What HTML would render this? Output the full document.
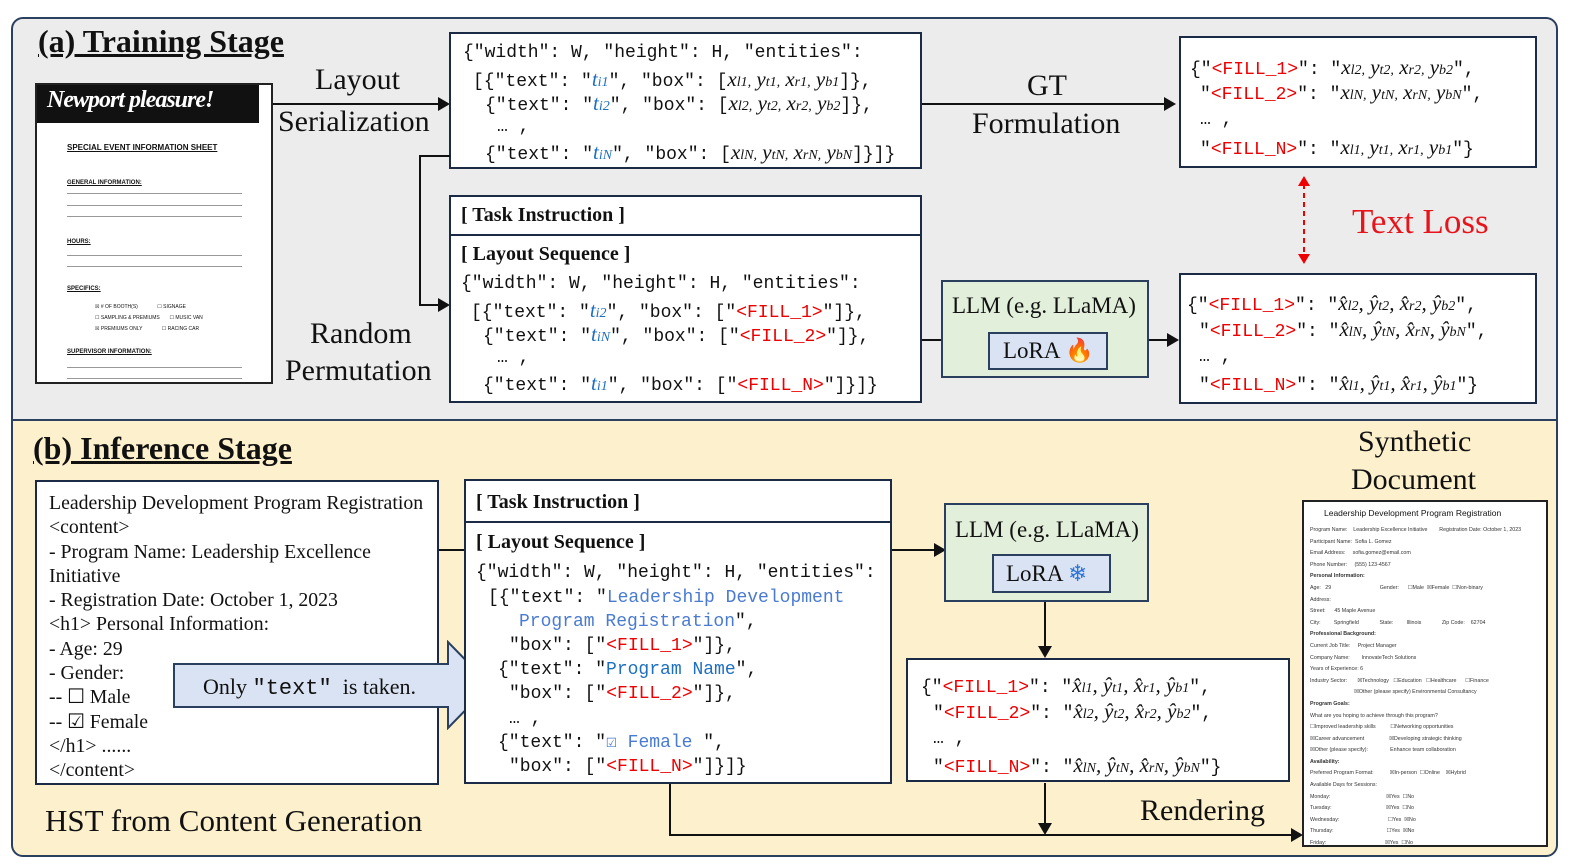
<!DOCTYPE html>
<html><head><meta charset="utf-8"><style>
*{margin:0;padding:0;box-sizing:border-box}
body{width:1578px;height:867px;background:#fff;position:relative;overflow:hidden;font-family:"Liberation Serif",serif;color:#111}
.a{position:absolute}
.panel{position:absolute;border:2px solid #2b3f5e;border-radius:12px}
.box{position:absolute;background:#fff;border:2px solid #1c2b45}
.t{position:absolute;white-space:nowrap;line-height:1}
.c{position:absolute;white-space:pre;font-family:"Liberation Mono",monospace;font-size:18px;line-height:1;letter-spacing:0}
.r{color:#e00}.b{color:#1f6fc0}.lb{color:#4a7bd0}
.m{font-family:"Liberation Serif",serif;font-style:italic;font-size:21px;letter-spacing:0}
.s{font-size:14px}
.ln{position:absolute;background:#111}
</style></head><body>
<div class="panel" style="left:11px;top:17px;width:1547px;height:404px;background:#ececec;border-radius:12px 12px 0 0"></div>
<div class="panel" style="left:11px;top:419px;width:1547px;height:438px;background:#fdf1cd;border-radius:0 0 12px 12px"></div>

<div class="t" style="left:38px;top:25px;font-size:32px;font-weight:bold;text-decoration:underline">(a) Training Stage</div>

<!-- doc image -->
<div class="a" style="left:35px;top:83px;width:238px;height:301px;background:#fff;border:2px solid #222">
 <div class="a" style="left:0;top:0;width:222px;height:38px;background:#111;color:#fff;font-style:italic;font-weight:bold;font-size:24px;padding:2px 0 0 10px;white-space:nowrap;letter-spacing:-1px">Newport pleasure!</div>
 <div class="t" style="left:30px;top:58px;font:bold 8px 'Liberation Sans';text-decoration:underline">SPECIAL EVENT INFORMATION SHEET</div>
 <div class="t" style="left:30px;top:95px;font:bold 6px 'Liberation Sans';text-decoration:underline">GENERAL INFORMATION:</div>
 <div class="a" style="left:30px;top:108px;width:175px;height:24px;border-top:1px solid #999;border-bottom:1px solid #999"></div>
 <div class="a" style="left:30px;top:120px;width:175px;height:1px;background:#999"></div>
 <div class="t" style="left:30px;top:154px;font:bold 6px 'Liberation Sans';text-decoration:underline">HOURS:</div>
 <div class="a" style="left:30px;top:170px;width:175px;height:12px;border-top:1px solid #999;border-bottom:1px solid #999"></div>
 <div class="t" style="left:30px;top:201px;font:bold 6px 'Liberation Sans';text-decoration:underline">SPECIFICS:</div>
 <div class="t" style="left:58px;top:217px;font:5px 'Liberation Sans';line-height:11px;white-space:pre">☒ # OF BOOTH(S)              ☐ SIGNAGE
☐ SAMPLING &amp; PREMIUMS       ☐ MUSIC VAN
☒ PREMIUMS ONLY              ☐ RACING CAR</div>
 <div class="t" style="left:30px;top:264px;font:bold 6px 'Liberation Sans';text-decoration:underline">SUPERVISOR INFORMATION:</div>
 <div class="a" style="left:30px;top:282px;width:175px;height:12px;border-top:1px solid #999;border-bottom:1px solid #999"></div>
</div>

<div class="t" style="left:315px;top:65px;font-size:30px">Layout</div>
<div class="t" style="left:278px;top:107px;font-size:30px">Serialization</div>
<div class="ln" style="left:273px;top:103px;width:168px;height:2px"></div>
<svg class="a" style="left:438px;top:97px" width="12" height="14"><polygon points="0,0 12,7 0,14" fill="#111"/></svg>

<div class="box" style="left:449px;top:32px;width:473px;height:137px"></div>
<div class="c" style="left:463px;top:44px">{"width": W, "height": H, "entities":</div>
<div class="c" style="left:473px;top:69px">[{"text": "<span class="b m">t<span class="s">i1</span></span>", "box": [<span class="m">x<span class="s">l1,</span> y<span class="s">t1,</span> x<span class="s">r1,</span> y<span class="s">b1</span></span>]},</div>
<div class="c" style="left:485px;top:93px">{"text": "<span class="b m">t<span class="s">i2</span></span>", "box": [<span class="m">x<span class="s">l2,</span> y<span class="s">t2,</span> x<span class="s">r2,</span> y<span class="s">b2</span></span>]},</div>
<div class="c" style="left:497px;top:118px">… ,</div>
<div class="c" style="left:485px;top:142px">{"text": "<span class="b m">t<span class="s">iN</span></span>", "box": [<span class="m">x<span class="s">lN,</span> y<span class="s">tN,</span> x<span class="s">rN,</span> y<span class="s">bN</span></span>]}]}</div>

<div class="ln" style="left:419px;top:155px;width:31px;height:2px"></div>
<div class="ln" style="left:419px;top:155px;width:2px;height:151px"></div>
<div class="ln" style="left:419px;top:304px;width:22px;height:2px"></div>
<svg class="a" style="left:438px;top:298px" width="12" height="14"><polygon points="0,0 12,7 0,14" fill="#111"/></svg>

<div class="t" style="left:310px;top:319px;font-size:30px">Random</div>
<div class="t" style="left:285px;top:356px;font-size:30px">Permutation</div>

<div class="box" style="left:449px;top:195px;width:473px;height:208px"></div>
<div class="ln" style="left:449px;top:234px;width:473px;height:2px;background:#1c2b45"></div>
<div class="t" style="left:461px;top:205px;font-size:20px;font-weight:bold">[ Task Instruction ]</div>
<div class="t" style="left:461px;top:244px;font-size:20px;font-weight:bold">[ Layout Sequence ]</div>
<div class="c" style="left:461px;top:275px">{"width": W, "height": H, "entities":</div>
<div class="c" style="left:471px;top:300px">[{"text": "<span class="b m">t<span class="s">i2</span></span>", "box": ["<span class="r">&lt;FILL_1&gt;</span>"]},</div>
<div class="c" style="left:483px;top:324px">{"text": "<span class="b m">t<span class="s">iN</span></span>", "box": ["<span class="r">&lt;FILL_2&gt;</span>"]},</div>
<div class="c" style="left:497px;top:349px">… ,</div>
<div class="c" style="left:483px;top:373px">{"text": "<span class="b m">t<span class="s">i1</span></span>", "box": ["<span class="r">&lt;FILL_N&gt;</span>"]}]}</div>

<div class="t" style="left:1027px;top:71px;font-size:30px">GT</div>
<div class="t" style="left:972px;top:109px;font-size:30px">Formulation</div>
<div class="ln" style="left:922px;top:103px;width:245px;height:2px"></div>
<svg class="a" style="left:1164px;top:97px" width="12" height="14"><polygon points="0,0 12,7 0,14" fill="#111"/></svg>

<div class="box" style="left:1179px;top:36px;width:358px;height:132px"></div>
<div class="c" style="left:1190px;top:57px">{"<span class="r">&lt;FILL_1&gt;</span>": "<span class="m">x<span class="s">l2,</span> y<span class="s">t2,</span> x<span class="s">r2,</span> y<span class="s">b2</span></span>",</div>
<div class="c" style="left:1200px;top:82px">"<span class="r">&lt;FILL_2&gt;</span>": "<span class="m">x<span class="s">lN,</span> y<span class="s">tN,</span> x<span class="s">rN,</span> y<span class="s">bN</span></span>",</div>
<div class="c" style="left:1200px;top:111px">… ,</div>
<div class="c" style="left:1200px;top:137px">"<span class="r">&lt;FILL_N&gt;</span>": "<span class="m">x<span class="s">l1,</span> y<span class="s">t1,</span> x<span class="s">r1,</span> y<span class="s">b1</span></span>"}</div>

<svg class="a" style="left:1297px;top:176px" width="14" height="88"><line x1="7" y1="8" x2="7" y2="80" stroke="#e00" stroke-width="2" stroke-dasharray="5,4"/><polygon points="1,10 7,0 13,10" fill="#e00"/><polygon points="1,78 7,88 13,78" fill="#e00"/></svg>
<div class="t" style="left:1352px;top:204px;font-size:35px;color:#e8141c">Text Loss</div>

<div class="ln" style="left:922px;top:339px;width:21px;height:2px"></div>
<div class="a" style="left:941px;top:280px;width:208px;height:98px;background:#e2efda;border:2px solid #2b3f5e"></div>
<div class="t" style="left:952px;top:294px;font-size:23px">LLM (e.g. LLaMA)</div>
<div class="a" style="left:988px;top:332px;width:120px;height:38px;background:#dae3f3;border:2px solid #2b3f5e"></div>
<div class="t" style="left:1003px;top:339px;font-size:23px">LoRA <span style="color:#e8141c">🔥</span></div>
<div class="ln" style="left:1149px;top:339px;width:22px;height:2px"></div>
<svg class="a" style="left:1167px;top:333px" width="12" height="14"><polygon points="0,0 12,7 0,14" fill="#111"/></svg>

<div class="box" style="left:1179px;top:273px;width:358px;height:131px"></div>
<div class="c" style="left:1187px;top:293px">{"<span class="r">&lt;FILL_1&gt;</span>": "<span class="m">x̂<span class="s">l2</span>, ŷ<span class="s">t2</span>, x̂<span class="s">r2</span>, ŷ<span class="s">b2</span></span>",</div>
<div class="c" style="left:1199px;top:319px">"<span class="r">&lt;FILL_2&gt;</span>": "<span class="m">x̂<span class="s">lN</span>, ŷ<span class="s">tN</span>, x̂<span class="s">rN</span>, ŷ<span class="s">bN</span></span>",</div>
<div class="c" style="left:1199px;top:348px">… ,</div>
<div class="c" style="left:1199px;top:373px">"<span class="r">&lt;FILL_N&gt;</span>": "<span class="m">x̂<span class="s">l1</span>, ŷ<span class="s">t1</span>, x̂<span class="s">r1</span>, ŷ<span class="s">b1</span></span>"}</div>

<!-- inference -->
<div class="t" style="left:33px;top:432px;font-size:32px;font-weight:bold;text-decoration:underline">(b) Inference Stage</div>
<div class="box" style="left:35px;top:480px;width:404px;height:305px"></div>
<div class="t" style="left:49px;top:491px;font-size:19.8px;line-height:24.3px;white-space:pre">Leadership Development Program Registration
&lt;content&gt;
- Program Name: Leadership Excellence
Initiative
- Registration Date: October 1, 2023
&lt;h1&gt; Personal Information:
- Age: 29
- Gender:
-- ☐ Male
-- ☑ Female
&lt;/h1&gt; ......
&lt;/content&gt;</div>
<div class="t" style="left:45px;top:805px;font-size:31px">HST from Content Generation</div>

<div class="ln" style="left:439px;top:549px;width:26px;height:2px"></div>
<svg class="a" style="left:170px;top:640px" width="325" height="90"><polygon points="4,24 278,24 278,2 320,45 278,88 278,67 4,67" fill="#dae3f3" stroke="#2b3f5e" stroke-width="2"/></svg>
<div class="t" style="left:203px;top:676px;font-size:22px">Only <span style="font-family:'Liberation Mono',monospace">"text"</span>&nbsp; is taken.</div>

<div class="box" style="left:464px;top:479px;width:428px;height:305px"></div>
<div class="ln" style="left:464px;top:521px;width:428px;height:2px;background:#1c2b45"></div>
<div class="t" style="left:476px;top:492px;font-size:20px;font-weight:bold">[ Task Instruction ]</div>
<div class="t" style="left:476px;top:532px;font-size:20px;font-weight:bold">[ Layout Sequence ]</div>
<div class="c" style="left:476px;top:564px">{"width": W, "height": H, "entities":</div>
<div class="c" style="left:488px;top:589px">[{"text": "<span class="lb">Leadership Development</span></div>
<div class="c" style="left:519px;top:613px"><span class="lb">Program Registration</span>",</div>
<div class="c" style="left:509px;top:637px">"box": ["<span class="r">&lt;FILL_1&gt;</span>"]},</div>
<div class="c" style="left:498px;top:661px">{"text": "<span class="b">Program Name</span>",</div>
<div class="c" style="left:509px;top:685px">"box": ["<span class="r">&lt;FILL_2&gt;</span>"]},</div>
<div class="c" style="left:509px;top:710px">… ,</div>
<div class="c" style="left:498px;top:734px">{"text": "<span class="lb">☑ Female </span>",</div>
<div class="c" style="left:509px;top:758px">"box": ["<span class="r">&lt;FILL_N&gt;</span>"]}]}</div>

<div class="ln" style="left:892px;top:549px;width:45px;height:2px"></div>
<svg class="a" style="left:934px;top:543px" width="12" height="14"><polygon points="0,0 12,7 0,14" fill="#111"/></svg>
<div class="a" style="left:944px;top:503px;width:205px;height:99px;background:#e2efda;border:2px solid #2b3f5e"></div>
<div class="t" style="left:955px;top:518px;font-size:23px">LLM (e.g. LLaMA)</div>
<div class="a" style="left:992px;top:554px;width:119px;height:39px;background:#dae3f3;border:2px solid #2b3f5e"></div>
<div class="t" style="left:1006px;top:562px;font-size:23px">LoRA <span style="color:#2f75d6">❄</span></div>
<div class="ln" style="left:1044px;top:602px;width:2px;height:46px"></div>
<svg class="a" style="left:1038px;top:646px" width="14" height="12"><polygon points="0,0 14,0 7,12" fill="#111"/></svg>

<div class="box" style="left:906px;top:658px;width:384px;height:124px"></div>
<div class="c" style="left:921px;top:675px">{"<span class="r">&lt;FILL_1&gt;</span>": "<span class="m">x̂<span class="s">l1</span>, ŷ<span class="s">t1</span>, x̂<span class="s">r1</span>, ŷ<span class="s">b1</span></span>",</div>
<div class="c" style="left:933px;top:701px">"<span class="r">&lt;FILL_2&gt;</span>": "<span class="m">x̂<span class="s">l2</span>, ŷ<span class="s">t2</span>, x̂<span class="s">r2</span>, ŷ<span class="s">b2</span></span>",</div>
<div class="c" style="left:933px;top:730px">… ,</div>
<div class="c" style="left:933px;top:755px">"<span class="r">&lt;FILL_N&gt;</span>": "<span class="m">x̂<span class="s">lN</span>, ŷ<span class="s">tN</span>, x̂<span class="s">rN</span>, ŷ<span class="s">bN</span></span>"}</div>

<div class="ln" style="left:1044px;top:783px;width:2px;height:42px"></div>
<svg class="a" style="left:1038px;top:823px" width="14" height="12"><polygon points="0,0 14,0 7,12" fill="#111"/></svg>
<div class="ln" style="left:669px;top:784px;width:2px;height:52px"></div>
<div class="ln" style="left:669px;top:834px;width:625px;height:2px"></div>
<svg class="a" style="left:1291px;top:828px" width="12" height="14"><polygon points="0,0 12,7 0,14" fill="#111"/></svg>
<div class="t" style="left:1140px;top:796px;font-size:30px">Rendering</div>

<div class="t" style="left:1358px;top:427px;font-size:30px">Synthetic</div>
<div class="t" style="left:1351px;top:465px;font-size:30px">Document</div>

<div class="a" style="left:1302px;top:500px;width:246px;height:347px;background:#fff;border:2px solid #222;font-family:'Liberation Sans',sans-serif;font-size:5.3px;color:#333">
 <div class="t" style="left:20px;top:7px;font-size:8.5px;color:#111">Leadership Development Program Registration</div>
 <div class="t" style="left:6px;top:23px;line-height:11.6px;white-space:pre">Program Name:    Leadership Excellence Initiative        Registration Date: October 1, 2023
Participant Name:  Sofia L. Gomez
Email Address:     sofia.gomez@email.com
Phone Number:     (555) 123-4567
<b>Personal Information:</b>
Age:   29                                 Gender:      ☐Male  ☒Female  ☐Non-binary
Address:
Street:      45 Maple Avenue
City:         Springfield              State:         Illinois              Zip Code:    62704
<b>Professional Background:</b>
Current Job Title:     Project Manager
Company Name:        InnovateTech Solutions
Years of Experience: 6
Industry Sector:       ☒Technology   ☐Education   ☐Healthcare      ☐Finance
                              ☒Other (please specify) Environmental Consultancy
<b>Program Goals:</b>
What are you hoping to achieve through this program?
☐Improved leadership skills          ☐Networking opportunities
☒Career advancement                 ☒Developing strategic thinking
☒Other (please specify):               Enhance team collaboration
<b>Availability:</b>
Preferred Program Format:           ☒In-person  ☐Online    ☒Hybrid
Available Days for Sessions:
Monday:                                      ☒Yes  ☐No
Tuesday:                                     ☒Yes  ☐No
Wednesday:                                 ☐Yes  ☒No
Thursday:                                    ☐Yes  ☒No
Friday:                                        ☒Yes  ☐No</div>
</div>
</body></html>
